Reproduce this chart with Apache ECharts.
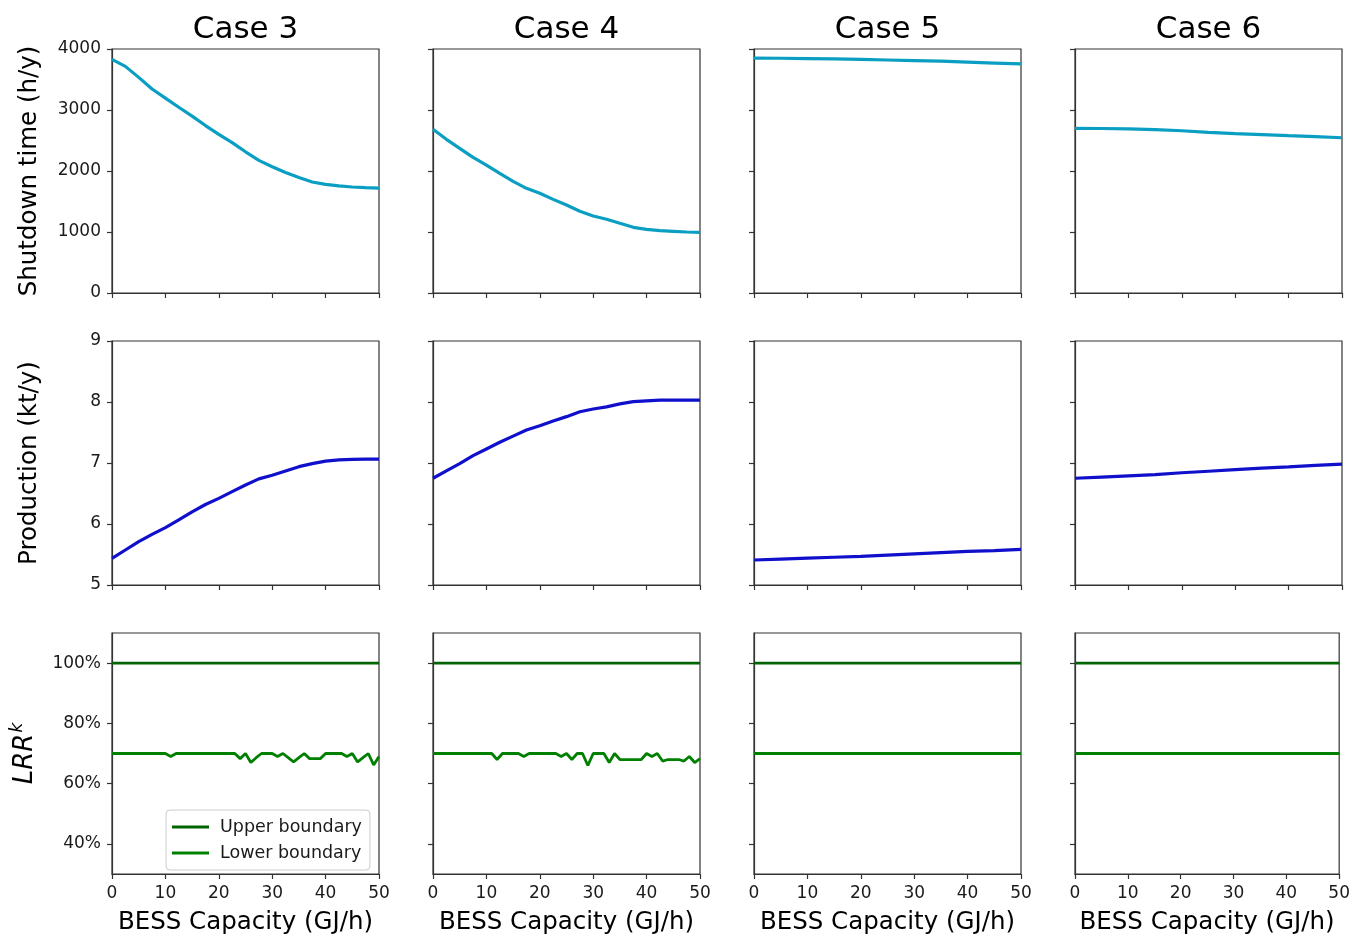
<!DOCTYPE html>
<html>
<head>
<meta charset="utf-8">
<script src="https://cdn.jsdelivr.net/npm/echarts@6/dist/echarts.min.js"></script>
<style>html,body{margin:0;padding:0;background:#fff;}#chart{width:1353px;height:936px;}</style>
</head>
<body>
<div id="chart"></div>
<script>
// ---- data ----
const caseNames = ['Case 3', 'Case 4', 'Case 5', 'Case 6'];
const xTicks = [0, 10, 20, 30, 40, 50];
const xSmooth = [0, 2.5, 5, 7.5, 10, 12.5, 15, 17.5, 20, 22.5, 25, 27.5, 30, 32.5, 35, 37.5, 40, 42.5, 45, 47.5, 50];
const xCoarse = [0, 5, 10, 15, 20, 25, 30, 35, 40, 45, 50];
const xLRR = [0,1,2,3,4,5,6,7,8,9,10,11,12,13,14,15,16,17,18,19,20,21,22,23,24,25,26,27,28,29,30,31,32,33,34,35,36,37,38,39,40,41,42,43,44,45,46,47,48,49,50];
const xEnds = [0, 50];

const shutdownCase3 = [3830,3715,3535,3345,3195,3045,2900,2745,2600,2465,2315,2175,2070,1975,1895,1820,1780,1755,1738,1727,1720];
const shutdownCase4 = [2683,2519,2372,2224,2098,1962,1830,1716,1634,1535,1443,1340,1262,1208,1142,1077,1044,1022,1011,1000,995];
const shutdownCase5 = [3850,3848,3843,3838,3830,3820,3810,3800,3785,3770,3755];
const shutdownCase6 = [2700,2697,2690,2678,2660,2632,2612,2597,2580,2565,2545];

const productionCase3 = [5.437,5.574,5.71,5.83,5.94,6.066,6.20,6.32,6.42,6.53,6.64,6.74,6.80,6.87,6.94,6.99,7.03,7.05,7.06,7.065,7.065];
const productionCase4 = [6.75,6.87,6.99,7.12,7.23,7.34,7.44,7.54,7.61,7.69,7.76,7.84,7.885,7.92,7.97,8.005,8.02,8.03,8.03,8.03,8.03];
const productionCase5 = [5.41,5.425,5.44,5.455,5.47,5.49,5.51,5.53,5.55,5.565,5.585];
const productionCase6 = [6.75,6.77,6.79,6.81,6.84,6.865,6.89,6.915,6.935,6.96,6.98];

const upperBoundary = [100, 100];
const lowerCase3 = [70,70,70,70,70,70,70,70,70,70,70,69,70,70,70,70,70,70,70,70,70,70,70,70,68.3,70,67,68.6,70,70,70,69,70,68.6,67.2,68.6,70,68.3,68.3,68.3,70,70,70,70,69,70,67.2,68.6,70,66.2,69];
const lowerCase4 = [70,70,70,70,70,70,70,70,70,70,70,70,68,70,70,70,70,69,70,70,70,70,70,70,69,70,68,70,70,66,70,70,70,67,70,68,68,68,68,68,70,69,70,67.5,68,68,68,67.5,69,67,68.3];
const lowerCase5 = [70, 70];
const lowerCase6 = [70, 70];

const shutdownTicks = [0, 1000, 2000, 3000, 4000];
const productionTicks = [5, 6, 7, 8, 9];
const lrrTicks = [40, 60, 80, 100];

// ---- layout ----
const colLeft = [112, 433, 754, 1075];
const rowTop = [49, 341, 633];
const plotW = 267, plotH = 244;
const FONT = 'DejaVu Sans';
const axisColor = '#333';
const labelColor = '#1a1a1a';

const pairs = (xs, ys) => xs.map((x, i) => [x, ys[i]]);

const rows = [
  { min: 0, max: 4000, ticks: shutdownTicks, fmt: v => String(v), name: 'Shutdown time (h/y)',
    series: [[pairs(xSmooth, shutdownCase3)], [pairs(xSmooth, shutdownCase4)], [pairs(xCoarse, shutdownCase5)], [pairs(xCoarse, shutdownCase6)]] },
  { min: 5, max: 9, ticks: productionTicks, fmt: v => String(v), name: 'Production (kt/y)',
    series: [[pairs(xSmooth, productionCase3)], [pairs(xSmooth, productionCase4)], [pairs(xCoarse, productionCase5)], [pairs(xCoarse, productionCase6)]] },
  { min: 30, max: 110, ticks: lrrTicks, fmt: v => v + '%', name: '{a|LRR}{b|k}',
    series: [[pairs(xEnds, upperBoundary), pairs(xLRR, lowerCase3)], [pairs(xEnds, upperBoundary), pairs(xLRR, lowerCase4)], [pairs(xEnds, upperBoundary), pairs(xEnds, lowerCase5)], [pairs(xEnds, upperBoundary), pairs(xEnds, lowerCase6)]] }
];

const grid = [], xAxis = [], yAxis = [], series = [], title = [];
let idx = 0;
rows.forEach((row, r) => {
  for (let c = 0; c < 4; c++) {
    grid.push({ left: colLeft[c], top: rowTop[r], width: plotW, height: plotH, show: true, borderColor: axisColor, borderWidth: 1.2, backgroundColor: 'transparent' });
    xAxis.push({
      type: 'value', gridIndex: idx, min: 0, max: 50, interval: 10,
      axisLine: { show: true, lineStyle: { color: axisColor, width: 1.2 } },
      axisTick: { show: true, inside: false, length: 5, lineStyle: { color: axisColor, width: 1.2 } },
      axisLabel: { show: r === 2, color: labelColor, fontSize: 17, fontFamily: FONT, margin: 11 },
      splitLine: { show: false },
      name: r === 2 ? 'BESS Capacity (GJ/h)' : '', nameLocation: 'middle', nameGap: 36,
      nameTextStyle: { fontSize: 24.5, fontFamily: FONT, color: '#000' }
    });
    yAxis.push({
      type: 'value', gridIndex: idx, min: row.min, max: row.max,
      axisLine: { show: true, lineStyle: { color: axisColor, width: 1.2 } },
      axisTick: { show: true, inside: false, length: 5, customValues: row.ticks, lineStyle: { color: axisColor, width: 1.2 } },
      axisLabel: { show: c === 0, customValues: row.ticks, formatter: row.fmt, color: labelColor, fontSize: 17, fontFamily: FONT, margin: 11 },
      splitLine: { show: false },
      name: c === 0 ? row.name : '', nameLocation: 'middle', nameGap: 70, nameRotate: 90,
      nameTextStyle: {
        fontSize: 24.5, fontFamily: FONT, color: '#000',
        rich: {
          a: { fontSize: 26, fontStyle: 'italic', fontFamily: FONT, color: '#000' },
          b: { fontSize: 17, fontStyle: 'italic', fontFamily: FONT, color: '#000', padding: [0, 0, 16, 1] }
        }
      }
    });
    const sd = row.series[c];
    if (r === 0) {
      series.push({ type: 'line', xAxisIndex: idx, yAxisIndex: idx, data: sd[0], symbol: 'none', silent: true,
        lineStyle: { color: '#0a9fc2', width: 3.2 } });
    } else if (r === 1) {
      series.push({ type: 'line', xAxisIndex: idx, yAxisIndex: idx, data: sd[0], symbol: 'none', silent: true,
        lineStyle: { color: '#0f0fcc', width: 3.2 } });
    } else {
      series.push({ type: 'line', name: 'Upper boundary', xAxisIndex: idx, yAxisIndex: idx, data: sd[0], symbol: 'none', silent: true,
        itemStyle: { color: '#006400' }, lineStyle: { color: '#006400', width: 2.8 } });
      series.push({ type: 'line', name: 'Lower boundary', xAxisIndex: idx, yAxisIndex: idx, data: sd[1], symbol: 'none', silent: true,
        itemStyle: { color: '#008000' }, lineStyle: { color: '#008000', width: 2.8 } });
    }
    idx++;
  }
});

caseNames.forEach((name, c) => {
  title.push({ text: name, left: colLeft[c] + plotW / 2, top: 14, textAlign: 'center', padding: 0,
    textStyle: { fontSize: 31, fontWeight: 'normal', fontFamily: FONT, color: '#000' } });
});

const option = {
  backgroundColor: '#fff',
  animation: false,
  title: title,
  grid: grid,
  xAxis: xAxis,
  yAxis: yAxis,
  series: series,
  legend: {
    data: ['Upper boundary', 'Lower boundary'],
    icon: 'rect',
    orient: 'vertical', left: 166, top: 810,
    itemWidth: 37, itemHeight: 3, itemGap: 8,
    padding: [8, 8, 8, 6],
    borderColor: '#cccccc', borderWidth: 1, borderRadius: 4, backgroundColor: '#fff',
    textStyle: { fontSize: 17.5, fontFamily: FONT, color: '#1a1a1a', padding: [0, 0, 0, 6] },
    selectedMode: false
  }
};

const chart = echarts.init(document.getElementById('chart'), null, { renderer: 'canvas' });
chart.setOption(option);
</script>
</body>
</html>
